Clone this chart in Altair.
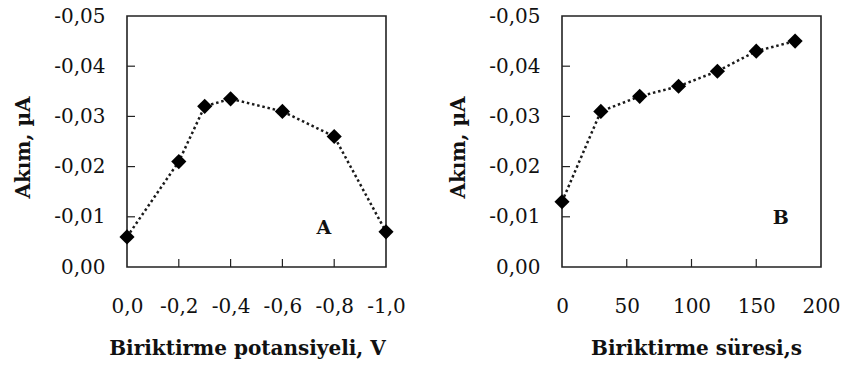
import altair as alt
import pandas as pd

# Panel A: deposition potential (V) against peak current (µA)
potential_v = [0.0, -0.2, -0.3, -0.4, -0.6, -0.8, -1.0]
current_a = [-0.006, -0.021, -0.032, -0.0335, -0.031, -0.026, -0.007]

# Panel B: deposition time (s) against peak current (µA)
time_s = [0, 30, 60, 90, 120, 150, 180]
current_b = [-0.013, -0.031, -0.034, -0.036, -0.039, -0.043, -0.045]

# Tick values
y_ticks = [0.0, -0.01, -0.02, -0.03, -0.04, -0.05]
x_ticks_a = [0.0, -0.2, -0.4, -0.6, -0.8, -1.0]
x_ticks_b = [0, 50, 100, 150, 200]
y_inner = [-0.01, -0.02, -0.03, -0.04]
x_inner_a = [-0.2, -0.4, -0.6, -0.8]
x_inner_b = [50, 100, 150]

# Panel letters and where they sit
letter_a = {"x": [-0.76], "y": [-0.0077], "t": ["A"]}
letter_b = {"x": [169], "y": [-0.0098], "t": ["B"]}

W, H = 259, 251
FONT = "DejaVu Serif"
INK = "#111111"

def comma_fmt(decimals):
    return ("(datum.value < 0 ? '-' : '') + replace(format(abs(datum.value), '.%df'), '.', ',')"
            % decimals)

def panel(xs, ys, xdomain, xreverse, xticks, xfmt, xinner, xtitle, xtitle_x, letter):
    xscale = alt.Scale(domain=xdomain, reverse=xreverse, nice=False, zero=False, padding=0)
    yscale = alt.Scale(domain=[-0.05, 0.0], reverse=True, nice=False, padding=0)
    df = pd.DataFrame({"x": xs, "y": ys})

    x_enc = alt.X("x:Q", scale=xscale, axis=alt.Axis(
        values=xticks, labelExpr=xfmt, title=xtitle, labelOverlap=False, labelFlush=False,
        titleX=xtitle_x, titleY=81, titleBaseline="middle", titleAlign="center"))
    y_enc = alt.Y("y:Q", scale=yscale, axis=alt.Axis(
        values=y_ticks, labelExpr=comma_fmt(2), title="Akım, µA",
        labelOverlap=False, labelFlush=False,
        titleX=-104, titleY=131, titleBaseline="middle", titleAlign="center"))

    line = alt.Chart(df).mark_line(
        color="#1a1a1a", strokeWidth=2.5, strokeDash=[2.5, 2.8]).encode(x=x_enc, y=y_enc)
    pts = alt.Chart(df).mark_point(
        shape="diamond", filled=True, size=230, color="#000000", opacity=1).encode(
        x=alt.X("x:Q", scale=xscale), y=alt.Y("y:Q", scale=yscale))
    txt = alt.Chart(pd.DataFrame(letter)).mark_text(
        font=FONT, fontWeight="bold", fontSize=19, color=INK,
        baseline="middle").encode(
        x=alt.X("x:Q", scale=xscale), y=alt.Y("y:Q", scale=yscale), text="t:N")
    # inward tick marks along the bottom and left edges
    xt = alt.Chart(pd.DataFrame({"x": xinner})).mark_rule(
        color="#222222", strokeWidth=1.2).encode(
        x=alt.X("x:Q", scale=xscale), y=alt.value(H), y2=alt.value(H - 8))
    yt = alt.Chart(pd.DataFrame({"y": y_inner})).mark_rule(
        color="#222222", strokeWidth=1.2).encode(
        y=alt.Y("y:Q", scale=yscale), x=alt.value(0), x2=alt.value(8))
    return alt.layer(line, pts, txt, xt, yt).properties(width=W, height=H)

left = panel(potential_v, current_a, [-1.0, 0.0], True, x_ticks_a, comma_fmt(1),
             x_inner_a, "Biriktirme potansiyeli, V", 120, letter_a)
right = panel(time_s, current_b, [0, 200], False, x_ticks_b, "format(datum.value, 'd')",
              x_inner_b, "Biriktirme süresi,s", 134, letter_b)

chart = alt.hconcat(left, right, spacing=40).properties(
    padding={"left": 12, "top": 5, "right": 0, "bottom": 0},
    background="white",
).configure_view(
    stroke="#222222", strokeWidth=1.6
).configure_axis(
    grid=False, domain=False, ticks=False, tickSize=0,
    labelFont=FONT, labelFontSize=20, labelColor=INK,
    titleFont=FONT, titleFontSize=20, titleFontWeight="bold", titleColor=INK,
).configure_axisX(
    labelPadding=29
).configure_axisY(
    labelPadding=22
)

chart.save("out.html", embed_options={"renderer": "svg", "actions": False})
